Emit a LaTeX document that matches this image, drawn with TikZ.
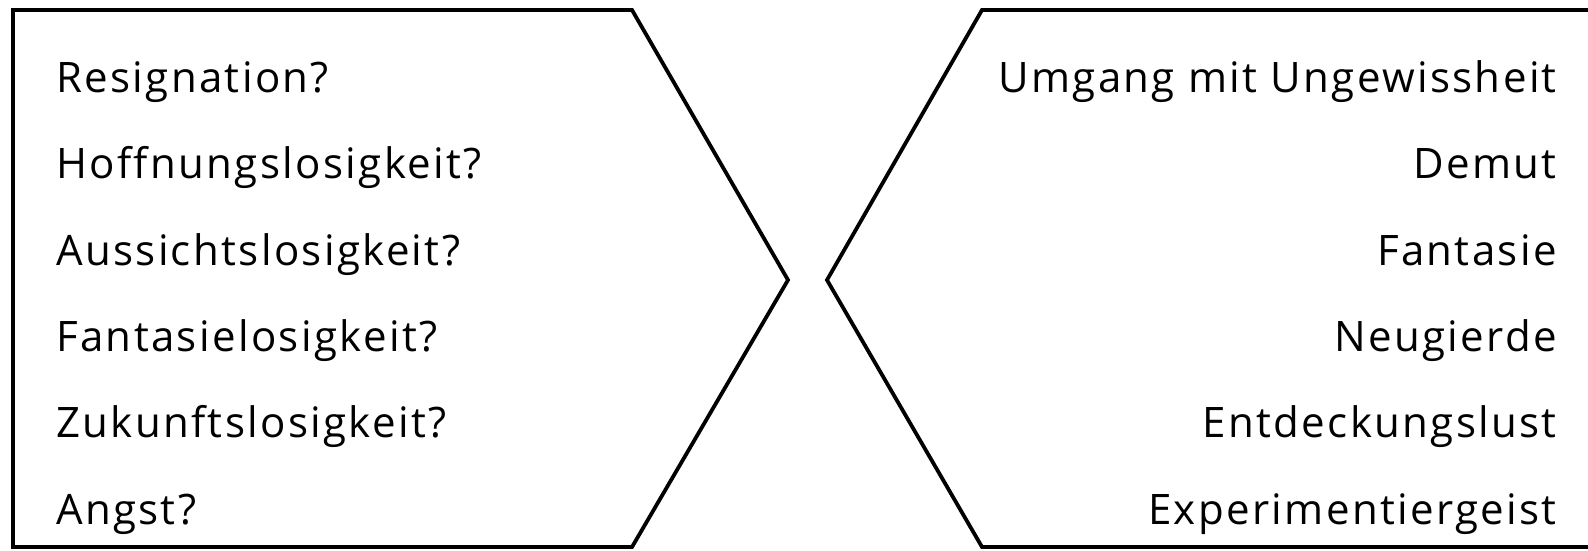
\documentclass[tikz,border=0pt]{standalone}
\usepackage{fontspec}
\setmainfont[Ligatures=NoCommon,LetterSpace=5.6]{Open Sans}
\begin{document}
\begin{tikzpicture}[x=1pt,y=1pt,
  shapeline/.style={draw=black,line width=3.8pt,line join=miter},
  lefttxt/.style={anchor=base west,inner sep=0pt,font=\fontsize{42}{42}\selectfont},
  righttxt/.style={anchor=base east,inner sep=0pt,font=\fontsize{42}{42}\selectfont}]
\useasboundingbox (0,0) rectangle (1588,550);
\clip (0,0) rectangle (1588,550);
\draw[shapeline] (13,540) -- (632,540) -- (788,270) -- (632,3) -- (13,3) -- cycle;
\draw[shapeline] (1610,540) -- (982,540) -- (827,270) -- (982,3) -- (1610,3);
\node[lefttxt] (l1) at (56,457.5) {Resignation?};
\node[lefttxt] (l2) at (56,371.2) {Hoffnungslosigkeit?};
\node[lefttxt] (l3) at (56,284.9) {Aussichtslosigkeit?};
\node[lefttxt] (l4) at (56,198.6) {Fantasielosigkeit?};
\node[lefttxt] (l5) at (56,112.3) {Zukunftslosigkeit?};
\node[lefttxt] (l6) at (56,26) {Angst?};
\node[righttxt] (r1) at (1557,457.5) {Umgang mit Ungewissheit};
\node[righttxt] (r2) at (1557,371.2) {Demut};
\node[righttxt] (r3) at (1557,284.9) {Fantasie};
\node[righttxt] (r4) at (1557,198.6) {Neugierde};
\node[righttxt] (r5) at (1557,112.3) {Entdeckungslust};
\node[righttxt] (r6) at (1557,26) {Experimentiergeist};
\end{tikzpicture}
\end{document}
